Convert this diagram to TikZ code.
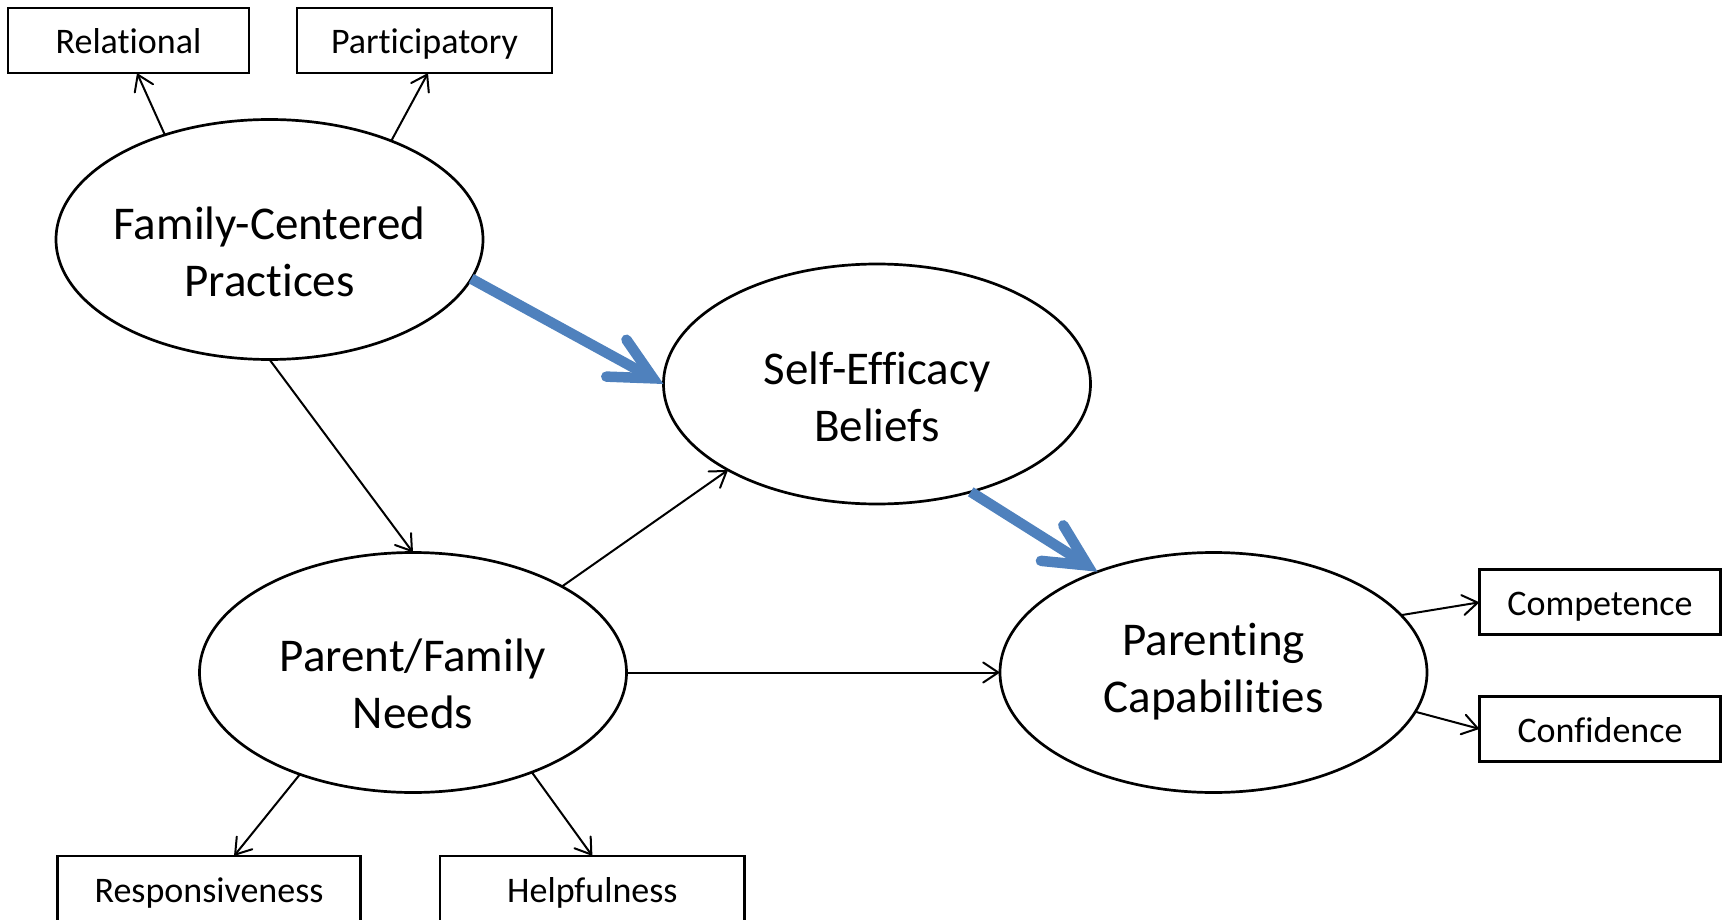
\documentclass[tikz,border=0pt]{standalone}
\usepackage{fontspec}
\setmainfont{Carlito}[Ligatures={NoCommon}]
\usetikzlibrary{shapes.geometric,arrows.meta,calc}
\definecolor{fblue}{HTML}{4F81BD}
\begin{document}
\begin{tikzpicture}[x=1pt,y=-1pt,
  ell/.style={ellipse,draw,line width=2.7pt,minimum width=427pt,minimum height=240pt,inner sep=0pt,outer sep=0pt},
  bigtxt/.style={anchor=base,inner sep=0pt,font=\fontsize{47}{57}\selectfont},
  sbox/.style={draw,line width=2.7pt,inner sep=0pt,outer sep=0pt,minimum height=65pt,text height=40pt,text depth=13pt,font=\fontsize{36}{43}\selectfont},
  bbox/.style={draw,line width=2.7pt,inner sep=0pt,outer sep=0pt,anchor=north,minimum height=90pt,text height=30pt,text depth=28pt,font=\fontsize{36}{43}\selectfont},
  thinarrow/.style={line width=2pt,-{Straight Barb[length=15pt,width=20pt,line cap=round,line join=miter]}},
  bluearrow/.style={line width=10.5pt,fblue,-{Straight Barb[length=42pt,width=42pt,line cap=round,line join=miter]}}
]
\useasboundingbox (0,0) rectangle (1725,920);
\clip (0,0) rectangle (1725,920);

% ellipses
\node[ell] (fcp) at (269.5,239.5) {};
\node[ell] (se) at (877,384) {};
\node[ell] (pfn) at (413,672.5) {};
\node[ell] (pc) at (1213.5,672.5) {};

\node[bigtxt] (fcpt) at ($(fcp.center)+(0,0.5)$) {\begin{tabular}[t]{@{}c@{}}Family-Centered\\Practices\end{tabular}};
\node[bigtxt] (set) at ($(se.center)+(0,0)$) {\begin{tabular}[t]{@{}c@{}}Self-Efficacy\\Beliefs\end{tabular}};
\node[bigtxt] (pfnt) at ($(pfn.center)+(0,-1)$) {\begin{tabular}[t]{@{}c@{}}Parent/Family\\Needs\end{tabular}};
\node[bigtxt] (pct) at ($(pc.center)+(0,-17.5)$) {\begin{tabular}[t]{@{}c@{}}Parenting\\Capabilities\end{tabular}};

% boxes
\node[sbox,minimum width=241pt] (rel) at (128.5,40.5) {Relational};
\node[sbox,minimum width=255pt] (par) at (424.5,40.5) {Participatory};
\node[sbox,minimum width=241pt] (comp) at (1600,602.3) {Competence};
\node[sbox,minimum width=241pt] (conf) at (1600,728.9) {Confidence};
\node[bbox,minimum width=303.6pt] (resp) at (209,856) {Responsiveness};
\node[bbox,minimum width=304.8pt] (help) at (592.4,856) {Helpfulness};

% connectors
\draw[thinarrow] (fcp.135) -- ($(rel.south)+(8.5,0)$);
\draw[thinarrow] (fcp.39) -- ($(par.south)+(3.5,0)$);
\draw[thinarrow] (fcp.south) -- (pfn.north);
\draw[thinarrow] (pfn.30) -- (se.210);
\draw[thinarrow] (pfn.east) -- (pc.west);
\draw[thinarrow] (pc.17) -- (comp.west);
\draw[thinarrow] (pc.-11) -- (conf.west);
\draw[thinarrow] (pfn.222) -- ($(resp.north)+(25,0)$);
\draw[thinarrow] (pfn.-40) -- (help.north);
\draw[bluearrow] (fcp.-11) -- (se.west);
\draw[bluearrow] (se.-49) -- (pc.139);
\end{tikzpicture}
\end{document}
